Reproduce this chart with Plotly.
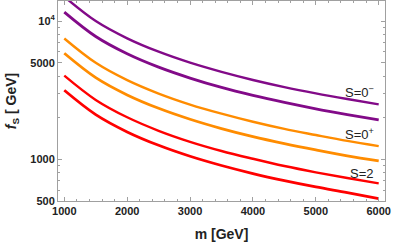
import math
import plotly.graph_objects as go

m = [1000, 1500, 2000, 2500, 3000, 3500, 4000, 4500, 5000, 5500, 6000]

f_m_thin = [15000, 10000, 7500, 6000, 5000, 4290, 3750, 3330, 3000, 2730, 2500]
f_m_thick = [11600, 7730, 5800, 4640, 3870, 3310, 2900, 2580, 2320, 2110, 1930]
f_p_thin = [7480, 4990, 3740, 2990, 2490, 2140, 1870, 1660, 1500, 1360, 1247]
f_p_thick = [5850, 3900, 2925, 2340, 1950, 1670, 1460, 1300, 1170, 1060, 975]
f_2_thin = [4030, 2690, 2015, 1610, 1340, 1150, 1010, 895, 806, 733, 670]
f_2_thick = [3160, 2107, 1580, 1264, 1053, 903, 790, 702, 632, 575, 520]

labels = ["S=0<sup>−</sup>", "S=0<sup>+</sup>", "S=2"]
label_y = [2590, 1300, 672]

purple = "#820A88"
orange = "#FF8C00"
red = "#FF0000"

series = [
    (f_m_thin, purple, 2.4), (f_m_thick, purple, 2.8),
    (f_p_thin, orange, 2.4), (f_p_thick, orange, 2.8),
    (f_2_thin, red, 2.4), (f_2_thick, red, 2.8),
]

fig = go.Figure()
for ys, c, w in series:
    fig.add_trace(go.Scatter(x=m, y=ys, mode="lines", line=dict(color=c, width=w, shape="spline"),
                             showlegend=False, hoverinfo="skip"))

for t, yv in zip(labels, label_y):
    fig.add_annotation(x=5960, y=math.log10(yv), xref="x", yref="y", yanchor="bottom", xanchor="right",
                       text=t, showarrow=False, font=dict(size=13, color="#222", family="Liberation Sans"))

frame = "#A0A0A0"
fig.update_layout(
    width=393, height=246,
    margin=dict(l=58, r=8, t=1, b=45, autoexpand=False),
    paper_bgcolor="white", plot_bgcolor="white",
    font=dict(family="Liberation Sans", color="#222"),
    xaxis=dict(range=[900, 6100], tickvals=[1000, 2000, 3000, 4000, 5000, 6000], automargin=False,
               ticks="inside", ticklen=4, tickcolor=frame, showline=True, linecolor=frame, linewidth=1,
               mirror="allticks", showgrid=False, zeroline=False,
               tickfont=dict(size=11, family="Liberation Sans", color="#222", weight="bold"),
               minor=dict(ticks="inside", ticklen=2, tickcolor=frame, dtick=200, tick0=0),
               title=dict(text="<b>m [GeV]</b>", font=dict(size=14, color="#222"), standoff=12)),
    yaxis=dict(type="log", range=[2.699, 4.145], tickvals=[500, 1000, 5000, 10000], automargin=False,
               ticktext=["500", "1000", "5000", "10<sup>4</sup>"],
               ticks="inside", ticklen=4, tickcolor=frame, showline=True, linecolor=frame, linewidth=1,
               mirror="allticks", showgrid=False, zeroline=False,
               tickfont=dict(size=11, family="Liberation Sans", color="#222", weight="bold"),
               minor=dict(ticks="inside", ticklen=2, tickcolor=frame,
                          tickvals=[600, 700, 800, 900, 2000, 3000, 4000, 6000, 7000, 8000, 9000]),
               title=dict(text="<b><i>f</i><sub>S</sub> [ GeV]</b>", font=dict(size=14, color="#222"), standoff=10)),
)
fig.write_html("out.html", config={"displayModeBar": False},
               post_script="document.body.style.margin='0';")
